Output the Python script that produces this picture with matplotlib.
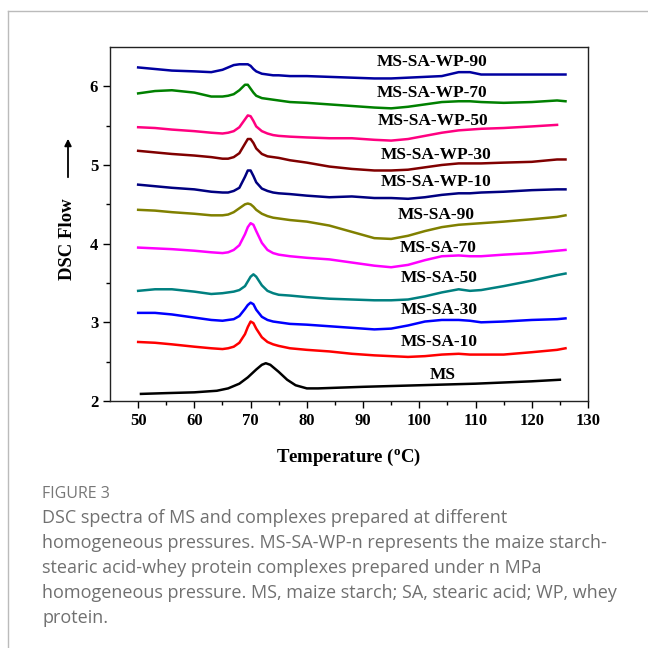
import numpy as np
import matplotlib
matplotlib.use("Agg")
import matplotlib.pyplot as plt
from matplotlib.lines import Line2D

plt.rcParams['font.family'] = ['Liberation Serif', 'DejaVu Serif']
plt.rcParams['font.weight'] = 'bold'
plt.rcParams['mathtext.fontset'] = 'custom'
plt.rcParams['mathtext.bf'] = 'Liberation Serif:bold'
plt.rcParams['mathtext.rm'] = 'Liberation Serif:bold'

# shared temperature grid (degC) for the complex curves
temp = [50, 53, 56, 60, 63, 65, 66, 67, 68, 69, 69.5, 70, 70.5, 71, 72, 73, 74, 75, 77,
        80, 84, 88, 92, 95, 98, 101, 104, 107, 109, 111, 115, 120, 124.5, 126]

sa10 = [2.75, 2.74, 2.72, 2.69, 2.67, 2.66, 2.67, 2.69, 2.74, 2.85, 2.94, 3.01, 2.99, 2.92, 2.81, 2.75, 2.72,
        2.70, 2.67, 2.65, 2.63, 2.60, 2.58, 2.57, 2.56, 2.57, 2.59, 2.60, 2.59, 2.59, 2.59, 2.62, 2.65, 2.67]
sa30 = [3.12, 3.12, 3.10, 3.06, 3.03, 3.02, 3.03, 3.04, 3.08, 3.17, 3.22, 3.25, 3.23, 3.16, 3.07, 3.03, 3.01,
        3.00, 2.98, 2.97, 2.95, 2.93, 2.91, 2.92, 2.96, 3.01, 3.03, 3.03, 3.02, 3.00, 3.01, 3.03, 3.04, 3.05]
sa50 = [3.40, 3.42, 3.42, 3.39, 3.36, 3.37, 3.38, 3.39, 3.41, 3.46, 3.52, 3.58, 3.61, 3.58, 3.47, 3.40, 3.37,
        3.35, 3.34, 3.32, 3.30, 3.29, 3.28, 3.28, 3.29, 3.33, 3.38, 3.42, 3.40, 3.41, 3.46, 3.53, 3.60, 3.62]
sa70 = [3.95, 3.94, 3.93, 3.91, 3.89, 3.88, 3.89, 3.92, 3.98, 4.12, 4.21, 4.26, 4.24, 4.16, 4.01, 3.92, 3.88,
        3.86, 3.84, 3.82, 3.80, 3.76, 3.72, 3.70, 3.73, 3.79, 3.84, 3.85, 3.84, 3.84, 3.86, 3.88, 3.91, 3.92]
sa90 = [4.43, 4.42, 4.40, 4.38, 4.36, 4.36, 4.37, 4.40, 4.45, 4.50, 4.51, 4.50, 4.47, 4.43, 4.38, 4.35, 4.33,
        4.32, 4.30, 4.28, 4.23, 4.15, 4.07, 4.06, 4.10, 4.16, 4.21, 4.24, 4.25, 4.26, 4.28, 4.31, 4.34, 4.36]
wp10 = [4.75, 4.73, 4.71, 4.69, 4.66, 4.65, 4.65, 4.67, 4.71, 4.85, 4.93, 4.93, 4.86, 4.78, 4.70, 4.67, 4.65,
        4.64, 4.63, 4.61, 4.59, 4.60, 4.58, 4.58, 4.57, 4.59, 4.62, 4.64, 4.64, 4.65, 4.66, 4.68, 4.69, 4.69]
wp30 = [5.18, 5.16, 5.14, 5.12, 5.10, 5.08, 5.08, 5.10, 5.15, 5.27, 5.33, 5.33, 5.28, 5.21, 5.14, 5.11, 5.10,
        5.09, 5.06, 5.03, 4.98, 4.95, 4.93, 4.93, 4.94, 4.97, 5.00, 5.02, 5.02, 5.02, 5.03, 5.04, 5.07, 5.07]
wp50 = [5.48, 5.47, 5.45, 5.43, 5.41, 5.40, 5.41, 5.43, 5.48, 5.58, 5.63, 5.62, 5.56, 5.49, 5.43, 5.40, 5.38,
        5.37, 5.36, 5.35, 5.34, 5.34, 5.32, 5.31, 5.33, 5.37, 5.41, 5.44, 5.45, 5.46, 5.47, 5.49, 5.51, np.nan]
wp70 = [5.91, 5.94, 5.95, 5.92, 5.87, 5.87, 5.88, 5.90, 5.95, 6.02, 6.02, 5.97, 5.92, 5.88, 5.85, 5.84, 5.83,
        5.82, 5.80, 5.79, 5.77, 5.75, 5.73, 5.72, 5.74, 5.77, 5.80, 5.81, 5.81, 5.80, 5.79, 5.80, 5.82, 5.81]
wp90 = [6.24, 6.22, 6.20, 6.19, 6.18, 6.21, 6.24, 6.27, 6.28, 6.28, 6.28, 6.26, 6.22, 6.19, 6.16, 6.15, 6.14,
        6.14, 6.13, 6.13, 6.12, 6.11, 6.10, 6.10, 6.11, 6.12, 6.13, 6.18, 6.18, 6.15, 6.15, 6.15, 6.15, 6.15]

# native maize starch
temp_ms = [50.5, 55, 60, 64, 66, 68, 69.5, 71, 72, 72.7, 73.5, 75, 76.5, 78, 80, 82, 90, 100, 110, 120, 125]
ms = [2.09, 2.10, 2.11, 2.13, 2.16, 2.22, 2.30, 2.40, 2.46, 2.48, 2.46, 2.37, 2.27, 2.20, 2.16, 2.16,
      2.18, 2.20, 2.22, 2.25, 2.27]

names = ['MS', 'MS-SA-10', 'MS-SA-30', 'MS-SA-50', 'MS-SA-70', 'MS-SA-90',
         'MS-SA-WP-10', 'MS-SA-WP-30', 'MS-SA-WP-50', 'MS-SA-WP-70', 'MS-SA-WP-90']
label_x = [104.2, 103.6, 103.6, 103.6, 103.3, 103.0, 103.0, 103.0, 102.4, 102.2, 102.2]
label_y = [2.33, 2.75, 3.16, 3.56, 3.95, 4.36, 4.78, 5.13, 5.56, 5.91, 6.31]
colors = ['#000000', '#ff0000', '#0000ff', '#008080', '#ff00ff', '#808000',
          '#000080', '#800000', '#ff0080', '#008000', '#0000a0']

fig = plt.figure(figsize=(6.48, 6.48), dpi=100)
ax = fig.add_axes([0.1698, 0.3812, 0.7376, 0.5463])

series = [sa10, sa30, sa50, sa70, sa90, wp10, wp30, wp50, wp70, wp90]
ax.plot(temp_ms, ms, color=colors[0], lw=1.8)
for ys, c in zip(series, colors[1:]):
    ax.plot(temp, ys, color=c, lw=1.8)

for n, lx, ly in zip(names, label_x, label_y):
    ax.text(lx, ly, n, ha='center', va='center', fontsize=12.5, fontweight='bold')

ax.set_xlim(45, 130)
ax.set_ylim(2, 6.5)
ax.set_xticks(range(50, 131, 10))
ax.set_xticks(range(55, 130, 10), minor=True)
ax.set_yticks([2, 3, 4, 5, 6])
ax.set_yticks([2.5, 3.5, 4.5, 5.5], minor=True)
ax.tick_params(which='major', direction='out', length=5, width=1, labelsize=12)
ax.tick_params(which='minor', direction='out', length=3, width=1)
for lab in ax.get_xticklabels() + ax.get_yticklabels():
    lab.set_fontweight('bold')
for s in ax.spines.values():
    s.set_linewidth(1)
    s.set_color('#222222')

ax.set_xlabel(r'Temperature ($\mathbf{^{o}}$C)', fontsize=13.5, fontweight='bold', labelpad=13)

# y label with an upward arrow
fig.text(68 / 648, 1 - 239 / 648, 'DSC Flow', rotation=90, ha='center', va='center',
         fontsize=13.5, fontweight='bold')
fig.add_artist(matplotlib.patches.FancyArrowPatch((68 / 648, 1 - 180 / 648), (68 / 648, 1 - 136 / 648),
                                                  transform=fig.transFigure, arrowstyle='-|>',
                                                  mutation_scale=10, lw=1.3, color='black'))

# surrounding frame
fig.add_artist(Line2D([8 / 648, 1.0], [1 - 11 / 648] * 2, transform=fig.transFigure, color='#bbbbbb', lw=1))
fig.add_artist(Line2D([8 / 648] * 2, [0, 1 - 11 / 648], transform=fig.transFigure, color='#bbbbbb', lw=1))

# caption
cap = ['DSC spectra of MS and complexes prepared at different',
       'homogeneous pressures. MS-SA-WP-n represents the maize starch-',
       'stearic acid-whey protein complexes prepared under n MPa',
       'homogeneous pressure. MS, maize starch; SA, stearic acid; WP, whey',
       'protein.']
fig.text(42 / 648, 1 - 494 / 648, 'FIGURE 3', family='Open Sans', fontsize=11.5,
         color='#777777', va='center', fontweight='normal')
for i, line in enumerate(cap):
    fig.text(42 / 648, 1 - (518 + 25 * i) / 648, line, family='Open Sans', fontsize=13,
             color='#707070', va='center', fontweight='normal')

fig.savefig('out.png', dpi=100)
